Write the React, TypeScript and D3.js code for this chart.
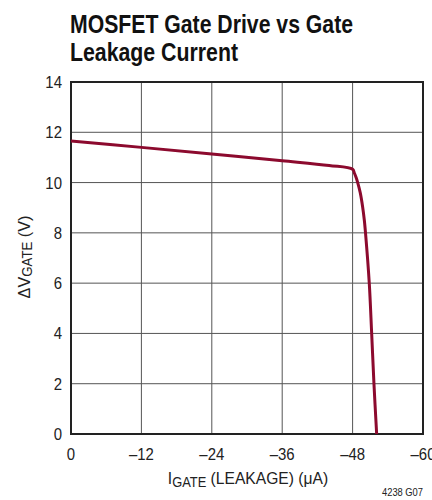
import React from "react";
import * as d3 from "d3";

const xTicks = [0, -12, -24, -36, -48, -60];
const yTicks = [0, 2, 4, 6, 8, 10, 12, 14];
const currentUA = [0, -12, -24, -36, -44, -48, -48.3, -48.6, -48.87, -49.3, -49.7, -50.0, -50.2, -50.84, -51.25, -51.64, -52.1];
const deltaVGate = [11.65, 11.4, 11.14, 10.87, 10.68, 10.53, 10.38, 10.2, 10.0, 9.6, 9.05, 8.5, 8.0, 6.0, 4.0, 2.0, 0];

const W = 432, H = 500;
const L = 71, R = 423, T = 82, B = 434;
const font = "'Liberation Sans', Arial, sans-serif";

function CText({ x, y, anchor = "start", size = 17, rotate = 0, sx = 0.88, children }: any) {
  return (
    <text
      transform={`translate(${x},${y}) rotate(${rotate}) scale(${sx},1)`}
      textAnchor={anchor}
      fontFamily={font}
      fontSize={size}
      fill="#222"
    >
      {children}
    </text>
  );
}

export default function App() {
  const x = d3.scaleLinear().domain([0, -60]).range([L, R]);
  const y = d3.scaleLinear().domain([0, 14]).range([B, T]);
  const pts = currentUA.map((c, i) => [c, deltaVGate[i]] as [number, number]);
  const line = d3.line<[number, number]>().x(d => x(d[0])).y(d => y(d[1])).curve(d3.curveCatmullRom.alpha(0.5));
  const fmt = (v: number) => (v < 0 ? "\u2013" + Math.abs(v) : String(v));
  return (
    <svg width={W} height={H} style={{ position: "absolute", left: 0, top: 0, background: "#fff" }}>
      <text x={70} y={33} fontFamily={font} fontWeight="bold" fontSize={25} fill="#111" textLength={283} lengthAdjust="spacingAndGlyphs">MOSFET Gate Drive vs Gate</text>
      <text x={70} y={61} fontFamily={font} fontWeight="bold" fontSize={25} fill="#111" textLength={168} lengthAdjust="spacingAndGlyphs">Leakage Current</text>
      {yTicks.map(t => (
        <line key={"gy" + t} x1={L} x2={R} y1={y(t)} y2={y(t)} stroke="#555" strokeWidth={1} />
      ))}
      {xTicks.map(t => (
        <line key={"gx" + t} x1={x(t)} x2={x(t)} y1={T} y2={B} stroke="#555" strokeWidth={1} />
      ))}
      <rect x={L} y={T} width={R - L} height={B - T} fill="none" stroke="#222" strokeWidth={2} />
      <path d={line(pts) || ""} fill="none" stroke="#8c0a2e" strokeWidth={3} strokeLinejoin="round" />
      {yTicks.map(t => (
        <CText key={"ty" + t} x={62} y={y(t) + 6} anchor="end">{t}</CText>
      ))}
      {xTicks.map(t => (
        <CText key={"tx" + t} x={x(t)} y={460} anchor="middle">{fmt(t)}</CText>
      ))}
      <CText x={30} y={257} anchor="middle" rotate={-90} sx={0.95}>
        {"\u0394V"}<tspan fontSize={14} dy={2}>GATE</tspan><tspan dy={-2}>{" (V)"}</tspan>
      </CText>
      <CText x={248} y={484} anchor="middle" sx={0.92}>
        {"I"}<tspan fontSize={14} dy={3}>GATE</tspan><tspan dy={-3}>{" (LEAKAGE) (\u03bcA)"}</tspan>
      </CText>
      <CText x={423} y={496} anchor="end" size={11} sx={0.85}>4238 G07</CText>
    </svg>
  );
}
